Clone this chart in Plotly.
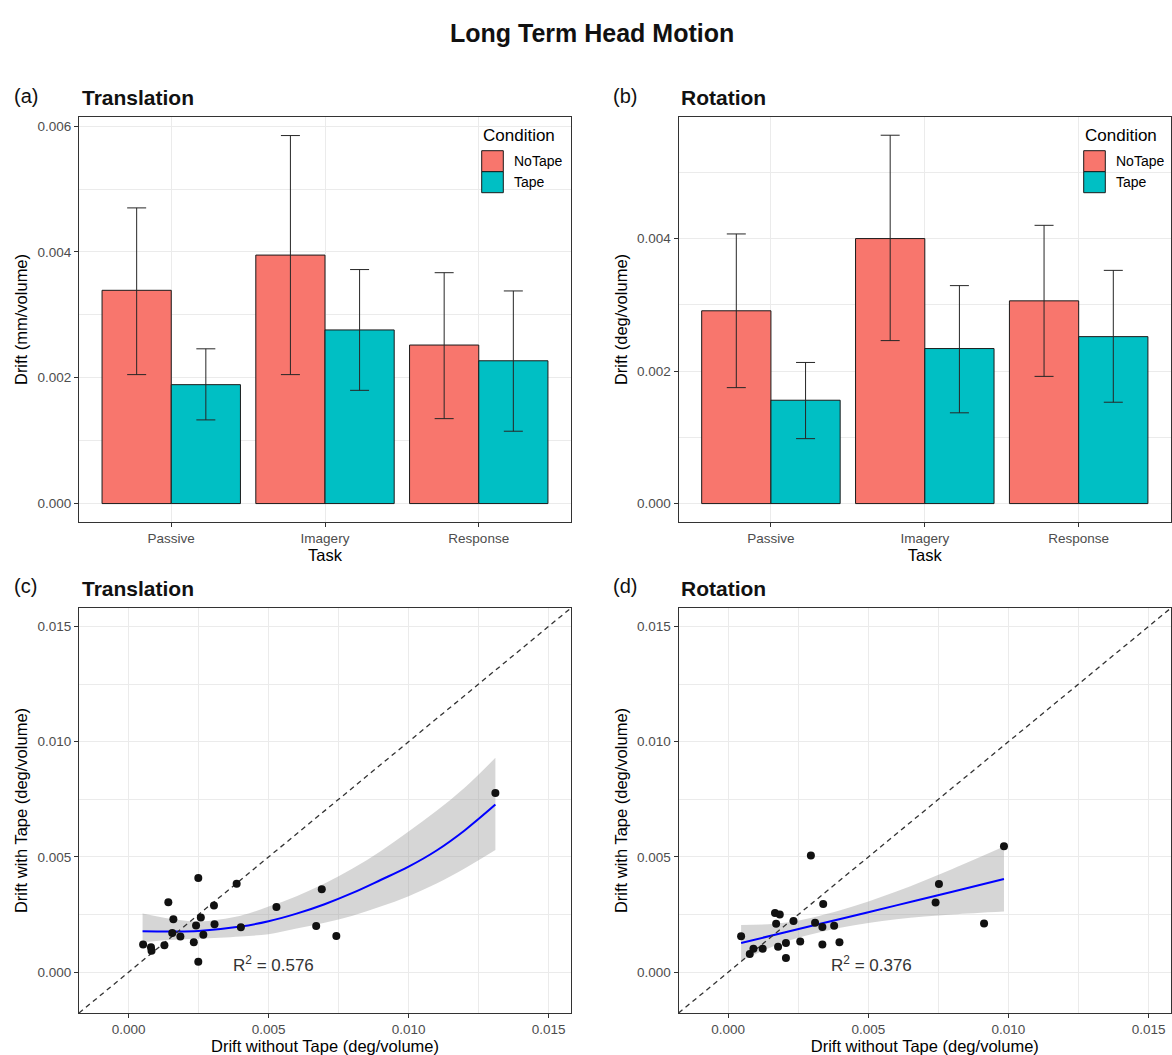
import plotly.graph_objects as go

# ---------------- data ----------------
tasks = ["Passive", "Imagery", "Response"]
conditions = ["NoTape", "Tape"]

# (a) translation drift, mm/volume
trans_notape_mean = [0.00339, 0.00395, 0.00252]
trans_notape_lo = [0.00205, 0.00205, 0.00135]
trans_notape_hi = [0.00470, 0.00585, 0.00367]
trans_tape_mean = [0.00189, 0.00276, 0.00227]
trans_tape_lo = [0.00133, 0.00180, 0.00115]
trans_tape_hi = [0.00246, 0.00372, 0.00338]

# (b) rotation drift, deg/volume
rot_notape_mean = [0.00291, 0.00400, 0.00306]
rot_notape_lo = [0.00175, 0.00246, 0.00192]
rot_notape_hi = [0.00407, 0.00556, 0.00420]
rot_tape_mean = [0.00156, 0.00234, 0.00252]
rot_tape_lo = [0.00098, 0.00137, 0.00153]
rot_tape_hi = [0.00213, 0.00329, 0.00352]

# (c) translation scatter
trans_x = [0.00052, 0.00080, 0.00082, 0.00128, 0.00142, 0.00160, 0.00156, 0.00185,
           0.00233, 0.00241, 0.00249, 0.00249, 0.00258, 0.00267, 0.00305, 0.00307,
           0.00386, 0.00401, 0.00528, 0.00670, 0.00690, 0.00742, 0.01310]
trans_y = [0.00120, 0.00108, 0.00093, 0.00117, 0.00303, 0.00230, 0.00170, 0.00155,
           0.00130, 0.00203, 0.00409, 0.00045, 0.00237, 0.00163, 0.00289, 0.00208,
           0.00384, 0.00195, 0.00283, 0.00200, 0.00360, 0.00157, 0.00777]
trans_fit_x = [0.0005, 0.0015, 0.0025, 0.0040, 0.0050, 0.0060, 0.0070, 0.0080,
               0.0090, 0.0100, 0.0110, 0.0120, 0.0131]
trans_fit_y = [0.00178, 0.00177, 0.00179, 0.00198, 0.00221, 0.00254, 0.00295, 0.00344,
               0.00400, 0.00458, 0.00528, 0.00615, 0.00727]
trans_fit_lo = [0.00130, 0.00140, 0.00145, 0.00155, 0.00165, 0.00190, 0.00215, 0.00245,
                0.00285, 0.00330, 0.00385, 0.00450, 0.00530]
trans_fit_hi = [0.00255, 0.00232, 0.00220, 0.00245, 0.00285, 0.00330, 0.00385, 0.00450,
                0.00525, 0.00610, 0.00700, 0.00800, 0.00930]
trans_r2 = "0.576"

# (d) rotation scatter
rot_x = [0.00046, 0.00077, 0.00090, 0.00123, 0.00167, 0.00184, 0.00171, 0.00178,
         0.00206, 0.00206, 0.00233, 0.00257, 0.00295, 0.00310, 0.00336, 0.00339,
         0.00336, 0.00378, 0.00397, 0.00740, 0.00752, 0.00913, 0.00984]
rot_y = [0.00156, 0.00079, 0.00102, 0.00102, 0.00257, 0.00250, 0.00210, 0.00110,
         0.00127, 0.00062, 0.00222, 0.00133, 0.00506, 0.00215, 0.00196, 0.00296,
         0.00120, 0.00202, 0.00130, 0.00302, 0.00383, 0.00211, 0.00546]
rot_fit_x = [0.00046, 0.0020, 0.0040, 0.0060, 0.0080, 0.00984]
rot_fit_y = [0.00127, 0.00172, 0.00231, 0.00290, 0.00349, 0.00404]
rot_fit_lo = [0.00050, 0.00130, 0.00193, 0.00230, 0.00250, 0.00263]
rot_fit_hi = [0.00205, 0.00214, 0.00269, 0.00350, 0.00448, 0.00545]
rot_r2 = "0.376"

bar_range_a = [-0.000293, 0.006145]
bar_range_b = [-0.000278, 0.005835]
scatter_range = [-0.00177, 0.0158]

# ---------------- styling ----------------
FONT = "Liberation Sans, Arial, Helvetica, sans-serif"
RED = "#F8766D"
TEAL = "#00BFC4"
GRID = "#EBEBEB"
W, H = 1172, 1055
TICK_SIZE = 13.5
TITLE_SIZE = 16.5


def px_x(v):
    return v / W


def px_y(v):
    return 1 - v / H


fig = go.Figure()


def diff(a, b):
    return [x - y for x, y in zip(a, b)]


def add_bars(xa, ya, nt_m, nt_lo, nt_hi, t_m, t_lo, t_hi):
    for name, col, m, lo, hi in [(conditions[0], RED, nt_m, nt_lo, nt_hi),
                                 (conditions[1], TEAL, t_m, t_lo, t_hi)]:
        fig.add_trace(go.Bar(
            x=tasks, y=m, name=name, xaxis=xa, yaxis=ya, showlegend=False,
            offsetgroup=name,
            marker=dict(color=col, line=dict(color="#1a1a1a", width=1)),
            error_y=dict(type="data", symmetric=False, array=diff(hi, m),
                         arrayminus=diff(m, lo), color="#262626",
                         thickness=1, width=9.5),
        ))


add_bars("x", "y", trans_notape_mean, trans_notape_lo, trans_notape_hi,
         trans_tape_mean, trans_tape_lo, trans_tape_hi)
add_bars("x2", "y2", rot_notape_mean, rot_notape_lo, rot_notape_hi,
         rot_tape_mean, rot_tape_lo, rot_tape_hi)


def add_scatter(xa, ya, px, py, fx, fy, flo, fhi):
    fig.add_trace(go.Scatter(x=fx, y=fhi, mode="lines", line=dict(width=0, shape="spline"),
                             xaxis=xa, yaxis=ya, showlegend=False, hoverinfo="skip"))
    fig.add_trace(go.Scatter(x=fx, y=flo, mode="lines", line=dict(width=0, shape="spline"),
                             fill="tonexty", fillcolor="rgba(153,153,153,0.4)",
                             xaxis=xa, yaxis=ya, showlegend=False, hoverinfo="skip"))
    fig.add_trace(go.Scatter(x=fx, y=fy, mode="lines",
                             line=dict(color="#0000FF", width=2, shape="spline"),
                             xaxis=xa, yaxis=ya, showlegend=False))
    fig.add_trace(go.Scatter(x=scatter_range, y=scatter_range, mode="lines",
                             line=dict(color="#333333", width=1.3, dash="5px,4px"),
                             xaxis=xa, yaxis=ya, showlegend=False, hoverinfo="skip"))
    fig.add_trace(go.Scatter(x=px, y=py, mode="markers",
                             marker=dict(color="#111111", size=8),
                             xaxis=xa, yaxis=ya, showlegend=False))


add_scatter("x3", "y3", trans_x, trans_y, trans_fit_x, trans_fit_y, trans_fit_lo, trans_fit_hi)
add_scatter("x4", "y4", rot_x, rot_y, rot_fit_x, rot_fit_y, rot_fit_lo, rot_fit_hi)

common_axis = dict(
    showline=True, linecolor="#333333", linewidth=1, mirror=True,
    ticks="outside", ticklen=4, tickwidth=1, tickcolor="#333333",
    tickfont=dict(family=FONT, size=TICK_SIZE, color="#4D4D4D"),
    showgrid=True, gridcolor=GRID, gridwidth=1, zeroline=False,
    automargin=False,
)
title_font = dict(family=FONT, size=TITLE_SIZE, color="black")
minor_bar = dict(dtick=0.001, showgrid=True, gridcolor=GRID, gridwidth=0.6)
minor_sc = dict(dtick=0.0025, showgrid=True, gridcolor=GRID, gridwidth=0.6)

xl_left = [px_x(79), px_x(571)]
xl_right = [px_x(678.6), px_x(1171)]
yd_top = [px_y(522), px_y(117)]
yd_bot = [px_y(1013), px_y(608)]

fig.update_layout(
    xaxis=dict(domain=xl_left, anchor="y", type="category", range=[-0.6, 2.6],
               title=dict(text="Task", font=title_font, standoff=2), **common_axis),
    yaxis=dict(domain=yd_top, anchor="x", range=bar_range_a, dtick=0.002, tick0=0,
               tickformat=".3f", minor=minor_bar,
               title=dict(text="Drift (mm/volume)", font=title_font, standoff=5), **common_axis),
    xaxis2=dict(domain=xl_right, anchor="y2", type="category", range=[-0.6, 2.6],
                title=dict(text="Task", font=title_font, standoff=2), **common_axis),
    yaxis2=dict(domain=yd_top, anchor="x2", range=bar_range_b, dtick=0.002, tick0=0,
                tickformat=".3f", minor=minor_bar,
                title=dict(text="Drift (deg/volume)", font=title_font, standoff=5), **common_axis),
    xaxis3=dict(domain=xl_left, anchor="y3", range=scatter_range, dtick=0.005, tick0=0,
                tickformat=".3f", minor=minor_sc,
                title=dict(text="Drift without Tape (deg/volume)", font=title_font, standoff=4),
                **common_axis),
    yaxis3=dict(domain=yd_bot, anchor="x3", range=scatter_range, dtick=0.005, tick0=0,
                tickformat=".3f", minor=minor_sc,
                title=dict(text="Drift with Tape (deg/volume)", font=title_font, standoff=5),
                **common_axis),
    xaxis4=dict(domain=xl_right, anchor="y4", range=scatter_range, dtick=0.005, tick0=0,
                tickformat=".3f", minor=minor_sc,
                title=dict(text="Drift without Tape (deg/volume)", font=title_font, standoff=4),
                **common_axis),
    yaxis4=dict(domain=yd_bot, anchor="x4", range=scatter_range, dtick=0.005, tick0=0,
                tickformat=".3f", minor=minor_sc,
                title=dict(text="Drift with Tape (deg/volume)", font=title_font, standoff=5),
                **common_axis),
)

annotations = [
    dict(text="<b>Long Term Head Motion</b>", x=0.505, y=px_y(33), xref="paper", yref="paper",
         showarrow=False, font=dict(family=FONT, size=25, color="#111111"),
         xanchor="center", yanchor="middle"),
]
for lab, title, xl, xt, yc in [("(a)", "Translation", 12, 80, 97),
                               ("(b)", "Rotation", 611, 679, 97),
                               ("(c)", "Translation", 12, 80, 587),
                               ("(d)", "Rotation", 611, 679, 587)]:
    annotations.append(dict(text=lab, x=px_x(xl), y=px_y(yc - 1), xref="paper", yref="paper",
                            showarrow=False, xanchor="left", yanchor="middle",
                            font=dict(family=FONT, size=20, color="#111111")))
    annotations.append(dict(text="<b>" + title + "</b>", x=px_x(xt), y=px_y(yc + 1),
                            xref="paper", yref="paper", showarrow=False,
                            xanchor="left", yanchor="middle",
                            font=dict(family=FONT, size=21, color="#111111")))

annotations.append(dict(text="R<sup>2</sup> = " + trans_r2, x=0.00516, y=0.00035, xref="x3", yref="y3",
                        showarrow=False, font=dict(family=FONT, size=17, color="#333333")))
annotations.append(dict(text="R<sup>2</sup> = " + rot_r2, x=0.00513, y=0.00035, xref="x4", yref="y4",
                        showarrow=False, font=dict(family=FONT, size=17, color="#333333")))

# legends ("Condition") for panels (a) and (b)
shapes = []
key_colors = [RED, TEAL]
for key_left in (481.7, 1083.7):
    annotations.append(dict(text="Condition", x=px_x(key_left - 1), y=px_y(135), xref="paper",
                            yref="paper", showarrow=False, xanchor="left", yanchor="middle",
                            font=dict(family=FONT, size=17, color="black")))
    for i, (cond, col) in enumerate(zip(conditions, key_colors)):
        top = 150.7 + i * 21
        shapes.append(dict(type="rect", xref="paper", yref="paper",
                           x0=px_x(key_left), x1=px_x(key_left + 21.6),
                           y0=px_y(top + 21), y1=px_y(top),
                           fillcolor=col, line=dict(color="#1a1a1a", width=1)))
        annotations.append(dict(text=cond, x=px_x(key_left + 30), y=px_y(top + 10.5),
                                xref="paper", yref="paper", showarrow=False,
                                xanchor="left", yanchor="middle",
                                font=dict(family=FONT, size=14, color="black")))

fig.update_layout(
    annotations=annotations, shapes=shapes,
    width=W, height=H, margin=dict(l=0, r=0, t=0, b=0),
    paper_bgcolor="white", plot_bgcolor="white",
    barmode="group", bargap=0.1, bargroupgap=0,
    font=dict(family=FONT),
    showlegend=False,
)

fig.write_html("out.html", config={"displayModeBar": False},
               post_script="document.body.style.margin='0';document.body.style.overflow='hidden';")
